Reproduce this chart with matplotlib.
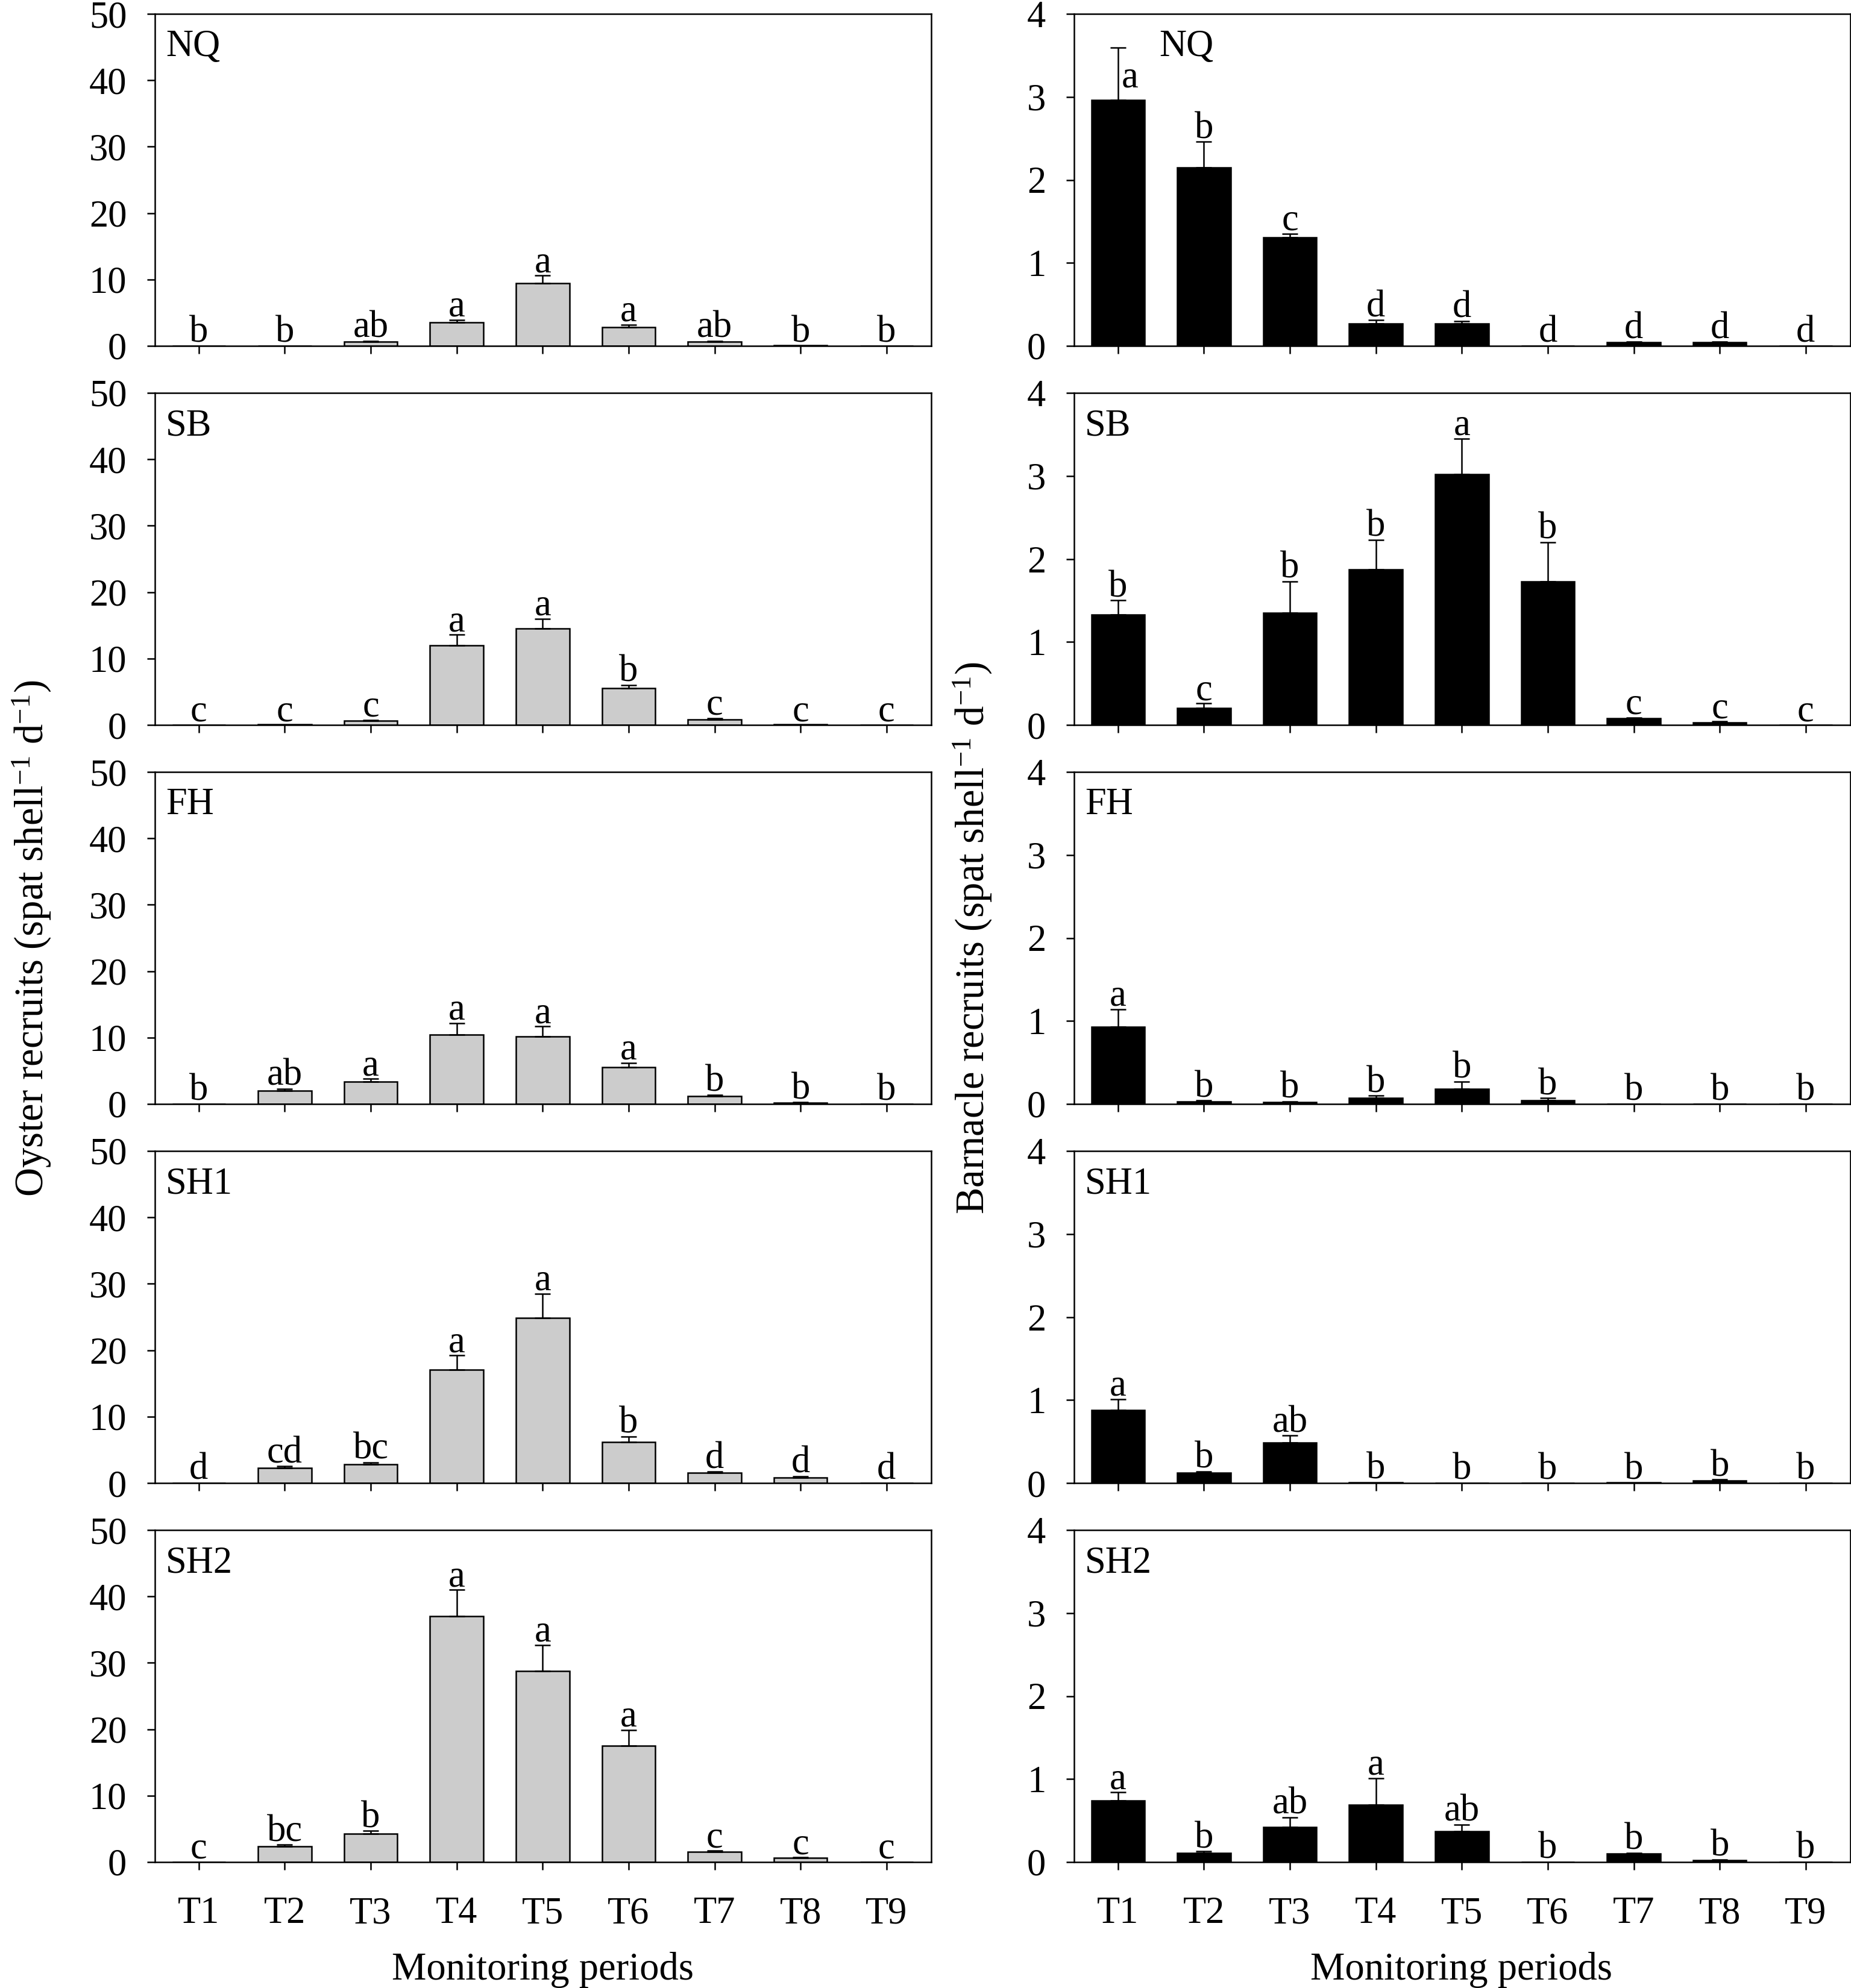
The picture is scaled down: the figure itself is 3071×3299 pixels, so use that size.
import matplotlib
matplotlib.use("Agg")
import matplotlib.pyplot as plt
import numpy as np

plt.rcParams['font.family'] = ['Liberation Serif', 'DejaVu Serif']
plt.rcParams['mathtext.fontset'] = 'custom'
plt.rcParams['mathtext.rm'] = 'Liberation Serif'
plt.rcParams['mathtext.it'] = 'Liberation Serif:italic'
plt.rcParams['mathtext.bf'] = 'Liberation Serif:bold'

# ---------------- data ----------------
periods = ['T1', 'T2', 'T3', 'T4', 'T5', 'T6', 'T7', 'T8', 'T9']
sites = ['NQ', 'SB', 'FH', 'SH1', 'SH2']

# Oyster recruits (mean, SE, letters)
oyster_NQ = [0, 0, 0.6, 3.5, 9.4, 2.8, 0.6, 0.05, 0]
oyster_NQ_se = [0, 0, 0.15, 0.4, 1.2, 0.4, 0.15, 0, 0]
oyster_NQ_let = ['b', 'b', 'ab', 'a', 'a', 'a', 'ab', 'b', 'b']

oyster_SB = [0, 0.05, 0.6, 12.0, 14.5, 5.5, 0.8, 0.05, 0]
oyster_SB_se = [0, 0, 0.15, 1.6, 1.5, 0.5, 0.2, 0, 0]
oyster_SB_let = ['c', 'c', 'c', 'a', 'a', 'b', 'c', 'c', 'c']

oyster_FH = [0, 2.0, 3.4, 10.4, 10.2, 5.5, 1.2, 0.2, 0]
oyster_FH_se = [0, 0.3, 0.4, 1.8, 1.5, 0.7, 0.2, 0.05, 0]
oyster_FH_let = ['b', 'ab', 'a', 'a', 'a', 'a', 'b', 'b', 'b']

oyster_SH1 = [0, 2.3, 2.8, 17.1, 24.9, 6.2, 1.5, 0.8, 0]
oyster_SH1_se = [0, 0.2, 0.3, 2.1, 3.6, 0.8, 0.2, 0.2, 0]
oyster_SH1_let = ['d', 'cd', 'bc', 'a', 'a', 'b', 'd', 'd', 'd']

oyster_SH2 = [0, 2.4, 4.3, 37.0, 28.8, 17.5, 1.5, 0.6, 0]
oyster_SH2_se = [0, 0.2, 0.4, 4.0, 3.9, 2.4, 0.2, 0.1, 0]
oyster_SH2_let = ['c', 'bc', 'b', 'a', 'a', 'a', 'c', 'c', 'c']

# Barnacle recruits (mean, SE, letters)
barn_NQ = [2.96, 2.15, 1.31, 0.27, 0.27, 0, 0.04, 0.04, 0]
barn_NQ_se = [0.63, 0.31, 0.04, 0.04, 0.03, 0, 0.01, 0.01, 0]
barn_NQ_let = ['a', 'b', 'c', 'd', 'd', 'd', 'd', 'd', 'd']

barn_SB = [1.33, 0.20, 1.35, 1.87, 3.02, 1.73, 0.08, 0.03, 0]
barn_SB_se = [0.17, 0.06, 0.38, 0.36, 0.43, 0.47, 0.01, 0.01, 0]
barn_SB_let = ['b', 'c', 'b', 'b', 'a', 'b', 'c', 'c', 'c']

barn_FH = [0.93, 0.03, 0.02, 0.07, 0.18, 0.04, 0, 0, 0]
barn_FH_se = [0.21, 0.01, 0.01, 0.03, 0.09, 0.03, 0, 0, 0]
barn_FH_let = ['a', 'b', 'b', 'b', 'b', 'b', 'b', 'b', 'b']

barn_SH1 = [0.88, 0.12, 0.49, 0.01, 0, 0, 0.005, 0.03, 0]
barn_SH1_se = [0.13, 0.02, 0.08, 0, 0, 0, 0, 0.01, 0]
barn_SH1_let = ['a', 'b', 'ab', 'b', 'b', 'b', 'b', 'b', 'b']

barn_SH2 = [0.74, 0.11, 0.42, 0.69, 0.37, 0, 0.10, 0.02, 0]
barn_SH2_se = [0.10, 0.02, 0.12, 0.32, 0.08, 0, 0.01, 0.01, 0]
barn_SH2_let = ['a', 'b', 'ab', 'a', 'ab', 'b', 'b', 'b', 'b']

oyster = [(oyster_NQ, oyster_NQ_se, oyster_NQ_let),
          (oyster_SB, oyster_SB_se, oyster_SB_let),
          (oyster_FH, oyster_FH_se, oyster_FH_let),
          (oyster_SH1, oyster_SH1_se, oyster_SH1_let),
          (oyster_SH2, oyster_SH2_se, oyster_SH2_let)]
barnacle = [(barn_NQ, barn_NQ_se, barn_NQ_let),
            (barn_SB, barn_SB_se, barn_SB_let),
            (barn_FH, barn_FH_se, barn_FH_let),
            (barn_SH1, barn_SH1_se, barn_SH1_let),
            (barn_SH2, barn_SH2_se, barn_SH2_let)]

# ---------------- figure ----------------
W, H = 3071, 3299
DPI = 300
fig = plt.figure(figsize=(W / DPI, H / DPI), dpi=DPI)

FS = 15
LW = 0.6
x = np.arange(len(periods))

col_x0 = [257 / W, 1782 / W]
ax_w = 1288 / W
top0 = 23
pitch = 629
ax_hpx = 551


def draw_panel(ax, vals, ses, lets, ymax, yticks, color, site, last, label_x, special=None):
    vals = np.array(vals, float)
    ses = np.array(ses, float)
    ax.bar(x, vals, width=0.62, color=color, edgecolor='black', linewidth=LW, zorder=2)
    m = ses > 0
    ax.errorbar(x[m], vals[m], yerr=[np.zeros(m.sum()), ses[m]], fmt='none',
                ecolor='black', elinewidth=LW, capsize=3.2, capthick=LW, zorder=3)
    off = 0.011 * ymax
    for i, (v, s, l) in enumerate(zip(vals, ses, lets)):
        xi, yi = x[i], v + s + off
        if special and i in special:
            dx, yy = special[i]
            xi, yi = x[i] + dx, yy
        ax.text(xi, yi, l, ha='center', va='baseline', fontsize=FS, zorder=4)
    ax.set_xlim(-0.51, 8.52)
    ax.set_ylim(0, ymax)
    ax.set_yticks(yticks)
    ax.set_xticks(x)
    ax.tick_params(axis='both', direction='out', length=3.2, width=LW, labelsize=FS,
                   top=False, right=False)
    ax.tick_params(axis='y', pad=8)
    ax.tick_params(axis='x', pad=10.5)
    if last:
        ax.set_xticklabels(periods)
    else:
        ax.set_xticklabels([])
    for sp in ax.spines.values():
        sp.set_linewidth(LW)
    ax.text(label_x, 0.952, site, transform=ax.transAxes, ha='left', va='top', fontsize=FS)


for r in range(5):
    bottom = 1 - (top0 + pitch * r + ax_hpx) / H
    h = ax_hpx / H
    axl = fig.add_axes([col_x0[0], bottom, ax_w, h])
    v, s, l = oyster[r]
    draw_panel(axl, v, s, l, 50, [0, 10, 20, 30, 40, 50], '#cccccc', sites[r], r == 4, 0.014)
    axr = fig.add_axes([col_x0[1], bottom, ax_w, h])
    v, s, l = barnacle[r]
    special = {0: (0.14, 3.12)} if r == 0 else None
    draw_panel(axr, v, s, l, 4, [0, 1, 2, 3, 4], 'black', sites[r], r == 4,
               0.11 if r == 0 else 0.014, special)

fig.text(53 / W, 0.528, 'Oyster recruits (spat shell$^{-1}$ d$^{-1}$)', rotation=90,
         ha='center', va='center', fontsize=16)
fig.text(1614 / W, 0.528, 'Barnacle recruits (spat shell$^{-1}$ d$^{-1}$)', rotation=90,
         ha='center', va='center', fontsize=16)
fig.text((257 + 644) / W, 1 - 3285 / H, 'Monitoring periods', ha='center', va='baseline',
         fontsize=15.5)
fig.text((1782 + 643) / W, 1 - 3285 / H, 'Monitoring periods', ha='center', va='baseline',
         fontsize=15.5)

fig.savefig('out.png', dpi=DPI)
